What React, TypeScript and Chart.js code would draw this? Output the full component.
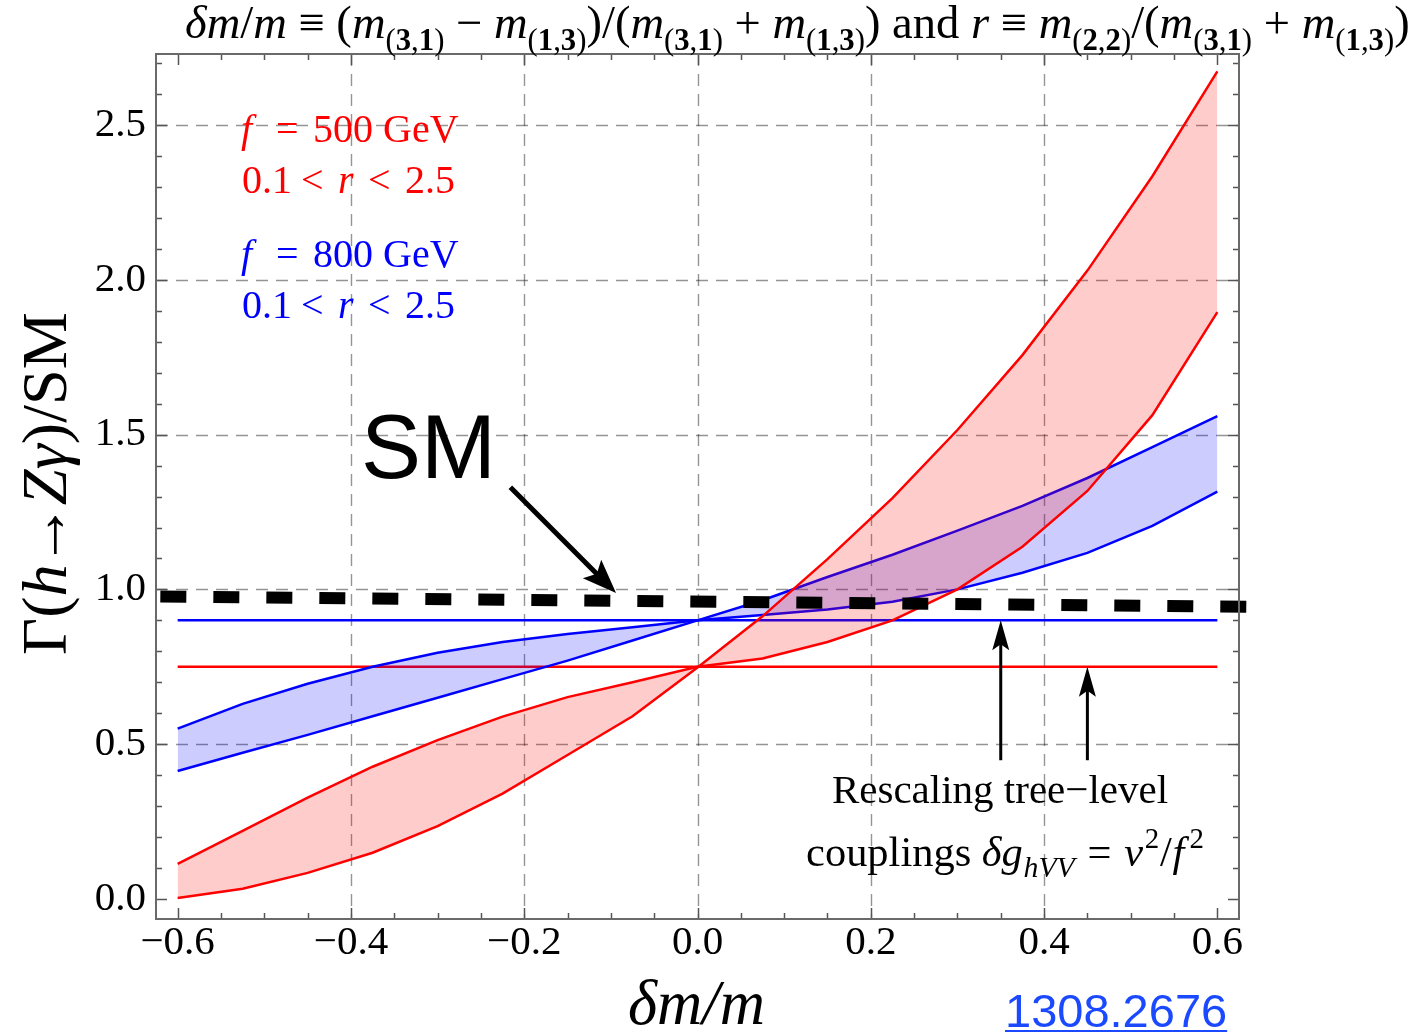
import React, { useEffect, useRef } from "react";
import { Chart, registerables } from "chart.js";

Chart.register(...registerables);

// ---------------- data ----------------
const deltaM = [-0.6, -0.525, -0.45, -0.375, -0.3, -0.225, -0.15, -0.075, 0, 0.075, 0.15, 0.225, 0.3, 0.375, 0.45, 0.525, 0.6];
const red500A = [0.113, 0.22, 0.327, 0.427, 0.513, 0.589, 0.652, 0.7, 0.75, 0.777, 0.83, 0.9, 1.0, 1.138, 1.318, 1.563, 1.896];
const red500B = [0.003, 0.033, 0.084, 0.149, 0.235, 0.34, 0.465, 0.59, 0.748, 0.913, 1.098, 1.295, 1.515, 1.757, 2.03, 2.335, 2.674];
const blue800A = [0.55, 0.63, 0.695, 0.75, 0.795, 0.83, 0.856, 0.878, 0.9, 0.917, 0.935, 0.96, 1.0, 1.054, 1.118, 1.205, 1.316];
const blue800B = [0.413, 0.472, 0.53, 0.59, 0.65, 0.71, 0.77, 0.835, 0.9, 0.965, 1.04, 1.112, 1.19, 1.27, 1.36, 1.46, 1.56];
const treeLevelX = [-0.6, 0.6];
const treeLevel500 = [0.75, 0.75];
const treeLevel800 = [0.9, 0.9];
const smX = [-0.62, 0.64];
const smY = [0.977, 0.944];

const xTickValues = [-0.6, -0.4, -0.2, 0, 0.2, 0.4, 0.6];
const yTickValues = [0, 0.5, 1, 1.5, 2, 2.5];
const gridX = [-0.4, -0.2, 0, 0.2, 0.4];
const gridY = [0.5, 1, 1.5, 2, 2.5];

const SERIF = "'Liberation Serif', 'DejaVu Serif', serif";
const SANS = "'Liberation Sans', Arial, sans-serif";

const toXY = (xs: number[], ys: number[]) => xs.map((x, i) => ({ x, y: ys[i] }));
const fmt = (v: number) => {
  const s = Math.abs(v).toFixed(1);
  return v < -1e-9 ? "\u2212" + s : s;
};

type Run = { t: string; s?: string; dx?: number };

function runFont(s: string | undefined, size: number) {
  switch (s) {
    case "i":
      return `italic ${size}px ${SERIF}`;
    case "subb":
      return `bold ${size * 0.66}px ${SERIF}`;
    case "sub":
      return `${size * 0.66}px ${SERIF}`;
    case "subi":
      return `italic ${size * 0.7}px ${SERIF}`;
    case "sup":
      return `${size * 0.68}px ${SERIF}`;
    default:
      return `${size}px ${SERIF}`;
  }
}
function runDy(s: string | undefined, size: number) {
  if (s === "sub" || s === "subb" || s === "subi") return size * 0.26;
  if (s === "sup") return -size * 0.42;
  return 0;
}
function runsWidth(ctx: CanvasRenderingContext2D, runs: Run[], size: number) {
  let w = 0;
  for (const r of runs) {
    ctx.font = runFont(r.s, size);
    w += ctx.measureText(r.t).width + (r.dx || 0) * size;
  }
  return w;
}
function drawRuns(ctx: CanvasRenderingContext2D, runs: Run[], x: number, y: number, size: number) {
  let cx = x;
  for (const r of runs) {
    ctx.font = runFont(r.s, size);
    cx += (r.dx || 0) * size;
    ctx.fillText(r.t, cx, y + runDy(r.s, size));
    cx += ctx.measureText(r.t).width;
  }
}
const sub = (a: string, b: string): Run[] => [
  { t: "(", s: "sub" },
  { t: a, s: "subb" },
  { t: ",", s: "sub" },
  { t: b, s: "subb" },
  { t: ")", s: "sub" },
];

function arrow(ctx: CanvasRenderingContext2D, x1: number, y1: number, x2: number, y2: number, lw: number, hl: number, hw: number) {
  const a = Math.atan2(y2 - y1, x2 - x1);
  const c = Math.cos(a), s = Math.sin(a);
  const bx = x2 - hl * c, by = y2 - hl * s;
  ctx.save();
  ctx.strokeStyle = "#000";
  ctx.fillStyle = "#000";
  ctx.lineWidth = lw;
  ctx.lineCap = "butt";
  ctx.beginPath();
  ctx.moveTo(x1, y1);
  ctx.lineTo(x2 - hl * 0.6 * c, y2 - hl * 0.6 * s);
  ctx.stroke();
  ctx.beginPath();
  ctx.moveTo(x2, y2);
  ctx.lineTo(bx + (hw / 2) * s, by - (hw / 2) * c);
  ctx.lineTo(x2 - hl * 0.8 * c, y2 - hl * 0.8 * s);
  ctx.lineTo(bx - (hw / 2) * s, by + (hw / 2) * c);
  ctx.closePath();
  ctx.fill();
  ctx.restore();
}

const decor = {
  id: "decor",
  beforeDatasetsDraw(chart: any) {
    const { ctx, chartArea: ca, scales } = chart;
    const xs = scales.x, ys = scales.y;
    ctx.save();
    ctx.strokeStyle = "rgba(0,0,0,0.42)";
    ctx.lineWidth = 1.4;
    ctx.setLineDash([12, 8]);
    for (const g of gridX) {
      const px = Math.round(xs.getPixelForValue(g)) + 0.5;
      ctx.beginPath();
      ctx.moveTo(px, ca.top);
      ctx.lineTo(px, ca.bottom);
      ctx.stroke();
    }
    for (const g of gridY) {
      const py = Math.round(ys.getPixelForValue(g)) + 0.5;
      ctx.beginPath();
      ctx.moveTo(ca.left, py);
      ctx.lineTo(ca.right, py);
      ctx.stroke();
    }
    ctx.restore();
  },
  afterDatasetsDraw(chart: any) {
    const { ctx, chartArea: ca, scales } = chart;
    const xs = scales.x, ys = scales.y;
    ctx.save();
    // frame ticks
    ctx.strokeStyle = "#555";
    ctx.lineWidth = 1.5;
    ctx.setLineDash([]);
    for (let k = -12; k <= 12; k++) {
      const v = k * 0.05;
      const major = k % 4 === 0;
      const len = major ? 11 : 6;
      const px = Math.round(xs.getPixelForValue(v)) + 0.5;
      ctx.beginPath();
      ctx.moveTo(px, ca.bottom);
      ctx.lineTo(px, ca.bottom - len);
      ctx.moveTo(px, ca.top);
      ctx.lineTo(px, ca.top + len);
      ctx.stroke();
    }
    for (let k = 0; k <= 27; k++) {
      const v = k * 0.1;
      const major = k % 5 === 0;
      const len = major ? 11 : 6;
      const py = Math.round(ys.getPixelForValue(v)) + 0.5;
      ctx.beginPath();
      ctx.moveTo(ca.left, py);
      ctx.lineTo(ca.left + len, py);
      ctx.moveTo(ca.right, py);
      ctx.lineTo(ca.right - len, py);
      ctx.stroke();
    }
    // frame
    ctx.strokeStyle = "#6a6a6a";
    ctx.lineWidth = 2;
    ctx.strokeRect(ca.left, ca.top, ca.right - ca.left, ca.bottom - ca.top);

    // SM label and arrow
    ctx.fillStyle = "#000";
    ctx.textBaseline = "alphabetic";
    ctx.textAlign = "left";
    ctx.font = `90px ${SANS}`;
    ctx.fillText("SM", 361, 478);
    arrow(ctx, xs.getPixelForValue(-0.216), ys.getPixelForValue(1.33), xs.getPixelForValue(-0.094), ys.getPixelForValue(0.988), 5, 34, 26);

    // up arrows to tree-level lines
    arrow(ctx, xs.getPixelForValue(0.35), ys.getPixelForValue(0.448), xs.getPixelForValue(0.35), ys.getPixelForValue(0.9), 3, 30, 17);
    arrow(ctx, xs.getPixelForValue(0.45), ys.getPixelForValue(0.448), xs.getPixelForValue(0.45), ys.getPixelForValue(0.75), 3, 30, 17);

    // legend blocks
    const legend = (x0: number, b1: number, b2: number, color: string, fval: string) => {
      ctx.fillStyle = color;
      ctx.font = `italic 40px ${SERIF}`;
      ctx.fillText("f", x0, b1);
      ctx.font = `40px ${SERIF}`;
      ctx.fillText("=", x0 + 35, b1);
      ctx.fillText(fval + " GeV", x0 + 72, b1);
      ctx.fillText("0.1", x0 + 1, b2);
      ctx.fillText("<", x0 + 60, b2);
      ctx.font = `italic 40px ${SERIF}`;
      ctx.fillText("r", x0 + 97, b2);
      ctx.font = `40px ${SERIF}`;
      ctx.fillText("<", x0 + 127, b2);
      ctx.fillText("2.5", x0 + 164, b2);
    };
    legend(241, 142, 193, "#ff0000", "500");
    legend(241, 267, 318, "#0000ff", "800");

    // rescaling text
    ctx.fillStyle = "#000";
    const l1: Run[] = [{ t: "Rescaling tree\u2212level" }];
    const w1 = runsWidth(ctx, l1, 41);
    drawRuns(ctx, l1, 1000 - w1 / 2, 803, 41);
    const l2: Run[] = [
      { t: "couplings " },
      { t: "\u03b4g", s: "i" },
      { t: "hVV", s: "subi", dx: 0.02 },
      { t: " = ", dx: 0.05 },
      { t: "v", s: "i", dx: 0.05 },
      { t: "2", s: "sup", dx: 0.04 },
      { t: "/", dx: 0.02 },
      { t: "f", s: "i", dx: 0.02 },
      { t: "2", s: "sup", dx: 0.12 },
    ];
    const w2 = runsWidth(ctx, l2, 41);
    const s2 = (41 * 398) / w2;
    const s2c = Math.min(43, s2);
    const w2c = runsWidth(ctx, l2, s2c);
    drawRuns(ctx, l2, 1005 - w2c / 2, 866, s2c);
    ctx.restore();
  },
  afterDraw(chart: any) {
    const { ctx } = chart;
    ctx.save();
    ctx.fillStyle = "#000";
    ctx.textAlign = "left";
    ctx.textBaseline = "alphabetic";
    // top title
    const title: Run[] = [
      { t: "\u03b4m", s: "i" },
      { t: "/" },
      { t: "m", s: "i" },
      { t: " \u2261 (" },
      { t: "m", s: "i" },
      ...sub("3", "1"),
      { t: " \u2212 " },
      { t: "m", s: "i" },
      ...sub("1", "3"),
      { t: ")/(" },
      { t: "m", s: "i" },
      ...sub("3", "1"),
      { t: " + " },
      { t: "m", s: "i" },
      ...sub("1", "3"),
      { t: ") and " },
      { t: "r", s: "i" },
      { t: " \u2261 " },
      { t: "m", s: "i" },
      ...sub("2", "2"),
      { t: "/(" },
      { t: "m", s: "i" },
      ...sub("3", "1"),
      { t: " + " },
      { t: "m", s: "i" },
      ...sub("1", "3"),
      { t: ")" },
    ];
    const tw = runsWidth(ctx, title, 34);
    const ts = (34 * 1225) / tw;
    drawRuns(ctx, title, 185, 38, ts);

    // x-axis title
    const xt: Run[] = [{ t: "\u03b4m/m", s: "i" }];
    const xw = runsWidth(ctx, xt, 60);
    const xsz = (60 * 137) / xw;
    drawRuns(ctx, xt, 628, 1024, xsz);

    // y-axis title
    const yt: Run[] = [
      { t: "\u0393(" },
      { t: "h", s: "i" },
      { t: "\u2192", dx: -0.04 },
      { t: "Z\u03b3", s: "i", dx: -0.04 },
      { t: ")/SM" },
    ];
    const yw = runsWidth(ctx, yt, 56);
    const ysz = (56 * 343) / yw;
    ctx.translate(66, 655);
    ctx.rotate(-Math.PI / 2);
    drawRuns(ctx, yt, 0, 0, ysz);
    ctx.setTransform(1, 0, 0, 1, 0, 0);

    // arXiv link
    ctx.fillStyle = "#1a49ff";
    ctx.strokeStyle = "#1a49ff";
    ctx.font = `47px ${SANS}`;
    const lw = ctx.measureText("1308.2676").width;
    ctx.fillText("1308.2676", 1005, 1027);
    ctx.lineWidth = 2;
    ctx.beginPath();
    ctx.moveTo(1005, 1031);
    ctx.lineTo(1005 + lw, 1031);
    ctx.stroke();
    ctx.restore();
  },
};

export default function App() {
  const ref = useRef<HTMLCanvasElement>(null);
  useEffect(() => {
    const canvas = ref.current;
    if (!canvas) return;
    const line = (data: any, color: string, extra: any = {}) => ({
      data,
      borderColor: color,
      borderWidth: 2.5,
      pointRadius: 0,
      tension: 0,
      fill: false,
      ...extra,
    });
    const chart = new Chart(canvas, {
      type: "line",
      data: {
        datasets: [
          line(toXY(smX, smY), "#000", { borderWidth: 12, borderDash: [26, 27], borderCapStyle: "butt", clip: false }),
          line(toXY(deltaM, red500A), "#ff0000", { fill: 2, backgroundColor: "rgba(255,0,0,0.2)" }),
          line(toXY(deltaM, red500B), "#ff0000"),
          line(toXY(deltaM, blue800A), "#0000ff", { fill: 4, backgroundColor: "rgba(0,0,255,0.2)" }),
          line(toXY(deltaM, blue800B), "#0000ff"),
          line(toXY(treeLevelX, treeLevel800), "#0000ff"),
          line(toXY(treeLevelX, treeLevel500), "#ff0000"),
        ],
      },
      options: {
        responsive: false,
        devicePixelRatio: 1,
        animation: false,
        layout: { padding: { left: 0, top: 54, right: 189, bottom: 0 } },
        plugins: { legend: { display: false }, tooltip: { enabled: false } },
        scales: {
          x: {
            type: "linear",
            min: -0.625,
            max: 0.625,
            grid: { display: false, drawTicks: false },
            border: { display: false },
            afterBuildTicks: (s: any) => {
              s.ticks = xTickValues.map((v) => ({ value: v }));
            },
            afterFit: (s: any) => {
              s.height = 115;
            },
            ticks: {
              autoSkip: false,
              maxRotation: 0,
              padding: 0,
              color: "#000",
              font: { family: SERIF, size: 41 },
              callback: (v: any) => fmt(Number(v)),
            },
          },
          y: {
            type: "linear",
            min: -0.065,
            max: 2.73,
            grid: { display: false, drawTicks: false },
            border: { display: false },
            afterBuildTicks: (s: any) => {
              s.ticks = yTickValues.map((v) => ({ value: v }));
            },
            afterFit: (s: any) => {
              s.width = 156;
            },
            ticks: {
              autoSkip: false,
              padding: 10,
              color: "#000",
              font: { family: SERIF, size: 41 },
              callback: (v: any) => fmt(Number(v)),
            },
          },
        },
      },
      plugins: [decor],
    } as any);
    return () => chart.destroy();
  }, []);
  return (
    <div style={{ position: "absolute", left: 0, top: 0, width: 1428, height: 1034, background: "#fff" }}>
      <canvas ref={ref} width={1428} height={1034} style={{ display: "block", width: 1428, height: 1034 }} />
    </div>
  );
}
